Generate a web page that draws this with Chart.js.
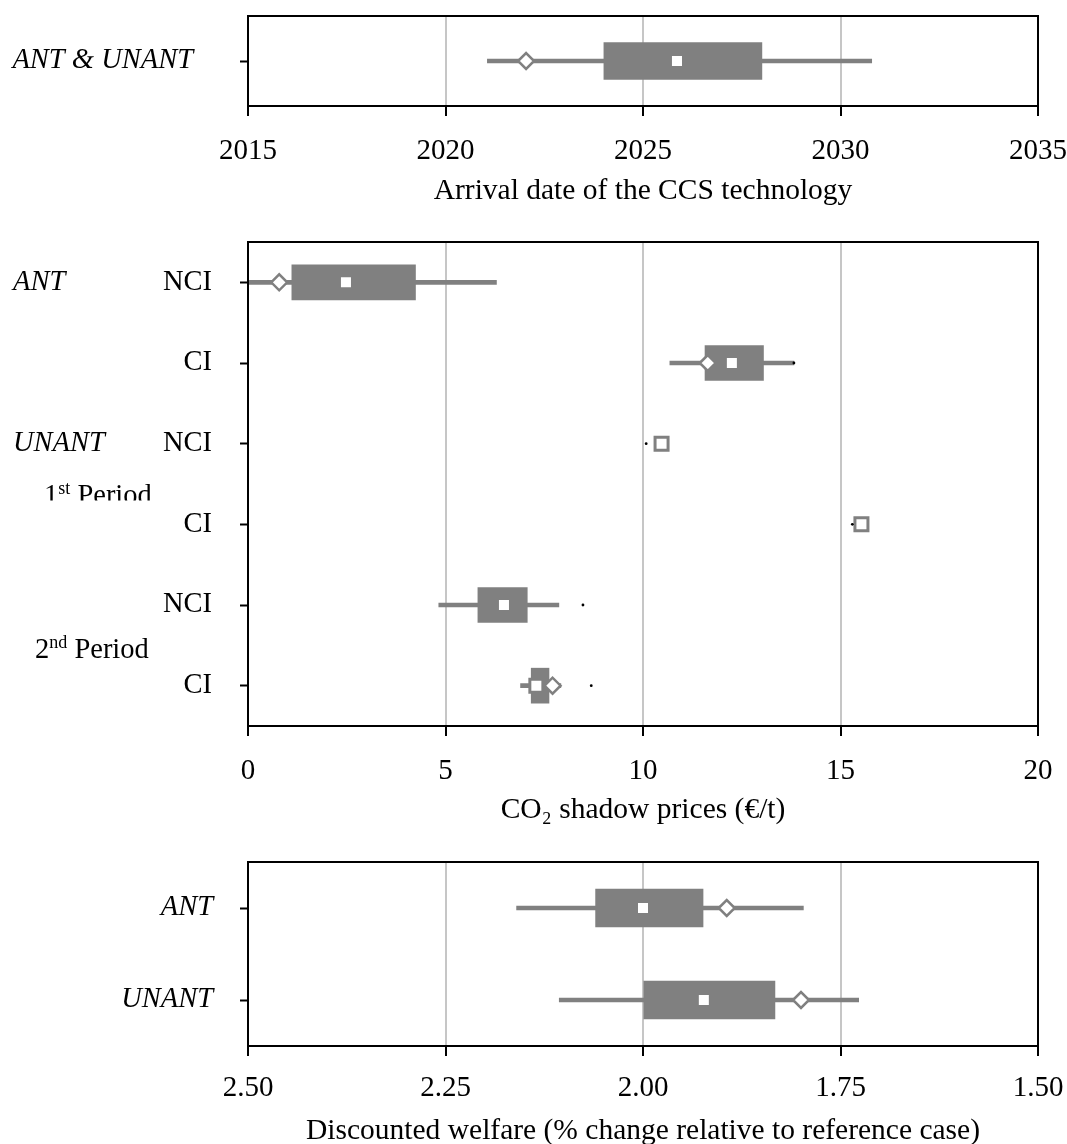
<!DOCTYPE html>
<html>
<head>
<meta charset="utf-8">
<script src="https://cdn.jsdelivr.net/npm/chart.js@4.4.1/dist/chart.umd.min.js"></script>
<style>
  html, body { margin: 0; padding: 0; background: #fff; overflow: hidden; }
  #wrap { position: relative; width: 1067px; height: 1144px; overflow: hidden; }
  canvas { position: absolute; left: 0; }
</style>
</head>
<body>
<div id="wrap">
  <canvas id="arrivalChart" width="1067" height="206" style="top:0px"></canvas>
  <canvas id="priceChart" width="1067" height="619" style="top:206px"></canvas>
  <canvas id="welfareChart" width="1067" height="321" style="top:825px"></canvas>
</div>
<script>
// arrival date of CCS
const arrivalCats = ['ANT & UNANT'];
const arrivalMin = [2021.06];
const arrivalQ1 = [2024.01];
const arrivalQ3 = [2028.01];
const arrivalMax = [2030.79];
const arrivalMean = [2025.86];
const arrivalOther = [2022.04];

// CO2 shadow prices
const priceCats = ['NCI', 'CI', 'NCI', 'CI', 'NCI', 'CI'];
const priceGroups = ['ANT', 'UNANT'];
const pricePeriods = [['1', 'st', ' Period'], ['2', 'nd', ' Period']];
const priceMin = [0, 10.68, null, null, 4.83, 6.9];
const priceQ1 = [1.11, 11.57, null, null, 5.82, 7.17];
const priceQ3 = [4.24, 13.05, null, null, 7.07, 7.62];
const priceMax = [6.29, 13.82, null, null, 7.87, 7.92];
const priceMean = [2.48, 12.25, 10.47, 15.53, 6.48, 7.3];
const priceOther = [0.79, 11.64, null, null, null, 7.71];
const priceExtreme = [null, 13.82, 10.08, 15.3, 8.48, 8.69];

// discounted welfare
const welfareCats = ['ANT', 'UNANT'];
const welfareMin = [2.16, 2.106];
const welfareQ1 = [2.06, 1.999];
const welfareQ3 = [1.924, 1.833];
const welfareMax = [1.797, 1.727];
const welfareMean = [2.0, 1.923];
const welfareOther = [1.894, 1.80];

const GREY = '#808080';
const SERIF = "'Liberation Serif', 'Times New Roman', serif";

Chart.defaults.font.family = SERIF;
Chart.defaults.font.size = 28.5;
Chart.defaults.color = '#000';

const frame = {
    id: 'frame',
    afterDraw(chart) {
        const a = chart.chartArea;
        const ctx = chart.ctx;
        ctx.save();
        ctx.strokeStyle = '#000';
        ctx.lineWidth = 2;
        ctx.strokeRect(a.left, a.top, a.right - a.left, a.bottom - a.top);
        ctx.restore();
    }
};

function periodLabel(ctx, parts, x, base) {
    ctx.font = '28.5px ' + SERIF;
    ctx.fillText(parts[0], x, base);
    x += ctx.measureText(parts[0]).width;
    ctx.font = '18px ' + SERIF;
    ctx.fillText(parts[1], x, base - 10);
    x += ctx.measureText(parts[1]).width;
    ctx.font = '28.5px ' + SERIF;
    ctx.fillText(parts[2], x, base);
}

const groupLabels = {
    id: 'groupLabels',
    afterDraw(chart) {
        const ctx = chart.ctx;
        const y = chart.scales.y;
        ctx.save();
        ctx.fillStyle = '#000';
        ctx.textAlign = 'left';
        ctx.textBaseline = 'middle';
        ctx.font = 'italic 28.5px ' + SERIF;
        ctx.fillText(priceGroups[0], 13, y.getPixelForTick(0));
        ctx.fillText(priceGroups[1], 13, y.getPixelForTick(2));

        ctx.textBaseline = 'alphabetic';
        const first = (y.getPixelForTick(2) + y.getPixelForTick(3)) / 2 + 19.6;
        ctx.save();
        ctx.beginPath();
        ctx.rect(0, 0, 240, first - 3);
        ctx.clip();
        periodLabel(ctx, pricePeriods[0], 44, first);
        ctx.restore();
        const second = (y.getPixelForTick(4) + y.getPixelForTick(5)) / 2 + 12.5;
        periodLabel(ctx, pricePeriods[1], 35, second);
        ctx.restore();
    }
};

function pairs(lo, hi) {
    return lo.map((v, i) => (v == null || hi[i] == null) ? null : [v, hi[i]]);
}

function noPadding(scale) {
    scale.paddingLeft = 0;
    scale.paddingRight = 0;
    scale.paddingTop = 0;
    scale.paddingBottom = 0;
}

function boxChart(id, s) {
    const markers = [];
    if (s.extreme) {
        markers.push({
            type: 'line', indexAxis: 'y', data: s.extreme, showLine: false,
            pointStyle: 'circle', pointRadius: 1.4, pointBorderWidth: 0,
            pointBackgroundColor: '#000', order: 0
        });
    }
    return new Chart(id, {
        type: 'bar',
        data: {
            labels: s.cats,
            datasets: markers.concat([{
                type: 'line', indexAxis: 'y', data: s.mean, showLine: false,
                pointStyle: 'rect', pointRadius: 9.2, pointBorderWidth: 3,
                pointBackgroundColor: '#fff', pointBorderColor: GREY, order: 1
            }, {
                type: 'line', indexAxis: 'y', data: s.other, showLine: false,
                pointStyle: 'rectRot', pointRadius: 8, pointBorderWidth: 2.5,
                pointBackgroundColor: '#fff', pointBorderColor: GREY, order: 2
            }, {
                data: pairs(s.q1, s.q3), backgroundColor: GREY,
                barThickness: s.box, grouped: false, order: 3
            }, {
                data: pairs(s.min, s.max), backgroundColor: GREY,
                barThickness: 4, grouped: false, order: 4
            }])
        },
        options: {
            responsive: false,
            animation: false,
            indexAxis: 'y',
            layout: { padding: { top: s.top, right: 29, left: 0, bottom: 0 } },
            plugins: { legend: { display: false }, tooltip: { enabled: false } },
            scales: {
                x: {
                    type: 'linear', min: s.xmin, max: s.xmax, reverse: !!s.reverse,
                    ticks: {
                        stepSize: s.step, padding: s.xpad, callback: s.fmt,
                        font: { size: 29, lineHeight: 1 }, maxRotation: 0, autoSkip: false
                    },
                    grid: { color: '#c6c6c6', lineWidth: 2, tickColor: '#000', tickLength: 10, tickWidth: 2 },
                    border: { color: '#000', width: 2 },
                    title: { display: true, text: s.title, font: { size: 29.5, lineHeight: 1 }, padding: 0 },
                    afterFit(scale) { noPadding(scale); scale.height = s.xh; }
                },
                y: {
                    type: 'category', offset: true,
                    ticks: { padding: s.ypad, font: { size: 28.5, style: s.yStyle, lineHeight: 1 }, autoSkip: false },
                    grid: { drawOnChartArea: false, offset: false, tickColor: '#000', tickLength: 8, tickWidth: 2 },
                    border: { color: '#000', width: 2 },
                    afterFit(scale) { noPadding(scale); scale.width = 248; }
                }
            }
        },
        plugins: [frame].concat(s.plugins || [])
    });
}

boxChart('arrivalChart', {
    cats: arrivalCats, min: arrivalMin, q1: arrivalQ1, q3: arrivalQ3, max: arrivalMax,
    mean: arrivalMean, other: arrivalOther,
    xmin: 2015, xmax: 2035, step: 5, fmt: v => String(v),
    title: 'Arrival date of the CCS technology',
    top: 16, xh: 100, xpad: 21, ypad: 47, yStyle: 'italic', box: 37
});

boxChart('priceChart', {
    cats: priceCats, min: priceMin, q1: priceQ1, q3: priceQ3, max: priceMax,
    mean: priceMean, other: priceOther, extreme: priceExtreme,
    xmin: 0, xmax: 20, step: 5, fmt: v => String(v),
    title: 'CO\u2082 shadow prices (\u20ac/t)',
    top: 36, xh: 99, xpad: 20.5, ypad: 28, yStyle: 'normal', box: 35,
    plugins: [groupLabels]
});

boxChart('welfareChart', {
    cats: welfareCats, min: welfareMin, q1: welfareQ1, q3: welfareQ3, max: welfareMax,
    mean: welfareMean, other: welfareOther,
    xmin: 1.5, xmax: 2.5, step: 0.25, reverse: true, fmt: v => v.toFixed(2),
    title: 'Discounted welfare (% change relative to reference case)',
    top: 37, xh: 100, xpad: 18, ypad: 27, yStyle: 'italic', box: 38
});
</script>
</body>
</html>
